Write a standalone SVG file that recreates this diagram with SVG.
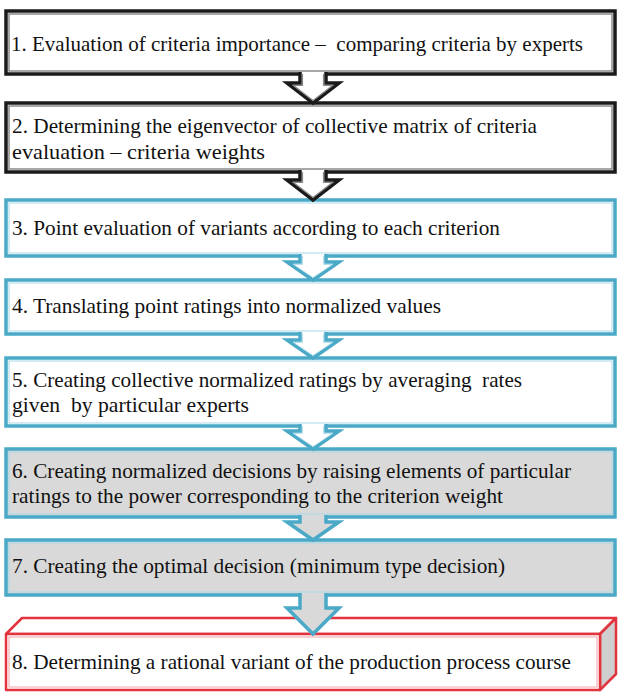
<svg xmlns="http://www.w3.org/2000/svg" width="619" height="693" viewBox="0 0 619 693">
<style>
.txt{font-family:"Liberation Serif","Times New Roman",serif;font-size:21px;fill:#111;white-space:pre;}
.bk{fill:#fff;stroke:#1a1a1a;stroke-width:3.5;}
.bkin{fill:none;stroke:#8a8a8a;stroke-width:1.5;}
.bl{fill:#fff;stroke:#4aa9c7;stroke-width:3.5;}
.blg{fill:#d9d9d9;stroke:#4aa9c7;stroke-width:3.5;}
.blin{fill:none;stroke:#a8d8e6;stroke-width:1;}
.abk{fill:#fff;stroke:#1a1a1a;stroke-width:3.5;stroke-linejoin:miter;}
.abkin{fill:none;stroke:#8a8a8a;stroke-width:1.2;}
.abl{fill:#fff;stroke:#4aa9c7;stroke-width:3.5;}
.ablg{fill:#d9d9d9;stroke:#4aa9c7;stroke-width:3.5;}
.ablin{fill:none;stroke:#b8e0ec;stroke-width:1;}
.rd{stroke:#e2343d;stroke-width:2.5;stroke-linejoin:round;}
.rdin{fill:none;stroke:#f3a3a8;stroke-width:1;}
</style>
<rect width="619" height="693" fill="#fff"/>

<g id="node1">
<rect class="bk" x="6" y="11" width="609" height="63"/>
<rect class="bkin" x="9" y="14" width="603" height="57"/>
<text class="txt" x="11" y="51" textLength="572" lengthAdjust="spacingAndGlyphs">1. Evaluation of criteria importance –  comparing criteria by experts</text>
</g>

<g id="node2">
<rect class="bk" x="6" y="103" width="609" height="69"/>
<rect class="bkin" x="9" y="106" width="603" height="63"/>
<text class="txt" x="12" y="133" textLength="525" lengthAdjust="spacingAndGlyphs">2. Determining the eigenvector of collective matrix of criteria</text>
<text class="txt" x="12" y="159" textLength="253" lengthAdjust="spacingAndGlyphs">evaluation – criteria weights</text>
</g>

<g id="node3">
<rect class="bl" x="6" y="200" width="609" height="56"/>
<rect class="blin" x="9" y="203" width="603" height="50"/>
<text class="txt" x="12" y="235" textLength="488" lengthAdjust="spacingAndGlyphs">3. Point evaluation of variants according to each criterion</text>
</g>

<g id="node4">
<rect class="bl" x="6" y="280" width="609" height="54"/>
<rect class="blin" x="9" y="283" width="603" height="48"/>
<text class="txt" x="12" y="313" textLength="429" lengthAdjust="spacingAndGlyphs">4. Translating point ratings into normalized values</text>
</g>

<g id="node5">
<rect class="bl" x="6" y="358" width="609" height="68"/>
<rect class="blin" x="9" y="361" width="603" height="62"/>
<text class="txt" x="12" y="387" textLength="510" lengthAdjust="spacingAndGlyphs">5. Creating collective normalized ratings by averaging  rates</text>
<text class="txt" x="12" y="412" textLength="237" lengthAdjust="spacingAndGlyphs">given  by particular experts</text>
</g>

<g id="node6">
<rect class="blg" x="6" y="449" width="609" height="68"/>
<rect class="blin" x="9" y="452" width="603" height="62"/>
<text class="txt" x="12" y="478" textLength="559" lengthAdjust="spacingAndGlyphs">6. Creating normalized decisions by raising elements of particular</text>
<text class="txt" x="12" y="503" textLength="491" lengthAdjust="spacingAndGlyphs">ratings to the power corresponding to the criterion weight</text>
</g>

<g id="node7">
<rect class="blg" x="6" y="540" width="609" height="55"/>
<rect class="blin" x="9" y="543" width="603" height="49"/>
<text class="txt" x="12" y="573" textLength="493" lengthAdjust="spacingAndGlyphs">7. Creating the optimal decision (minimum type decision)</text>
</g>

<g id="node8">
<polygon class="rd" fill="#fff" points="6,634 22,618 616,618 600,634"/>
<polygon class="rd" fill="#cfcfcf" points="600,634 616,618 616,674 600,690"/>
<rect class="rd" fill="#fff" x="6" y="634" width="594" height="56"/>
<rect class="rdin" x="9" y="637" width="588" height="50"/>
<text class="txt" x="12" y="669" textLength="559" lengthAdjust="spacingAndGlyphs">8. Determining a rational variant of the production process course</text>
</g>

<g id="connectors">
<path class="abk" d="M300,72 V83 H287 L313,103 L339,83 H326 V72"/>
<path class="abkin" d="M302.5,74 V85.5 H293.5 L313,100.5 L332.5,85.5 H323.5 V74"/>
<path class="abk" d="M300,170 V180 H287 L313,200 L339,180 H326 V170"/>
<path class="abkin" d="M302.5,172 V182.5 H293.5 L313,197.5 L332.5,182.5 H323.5 V172"/>
<path class="abl" d="M300,254 V262 H287 L313,280 L339,262 H326 V254"/>
<path class="ablin" d="M302.5,256 V264.5 H293.5 L313,277.5 L332.5,264.5 H323.5 V256"/>
<path class="abl" d="M300,332 V340 H287 L313,358 L339,340 H326 V332"/>
<path class="ablin" d="M302.5,334 V342.5 H293.5 L313,355.5 L332.5,342.5 H323.5 V334"/>
<path class="abl" d="M300,424 V431 H287 L313,449 L339,431 H326 V424"/>
<path class="ablin" d="M302.5,426 V433.5 H293.5 L313,446.5 L332.5,433.5 H323.5 V426"/>
<path class="ablg" d="M300,515 V522 H287 L313,540 L339,522 H326 V515"/>
<path class="ablg" d="M300,593 V608 H287 L313,634 L339,608 H326 V593"/>
</g>
</svg>
